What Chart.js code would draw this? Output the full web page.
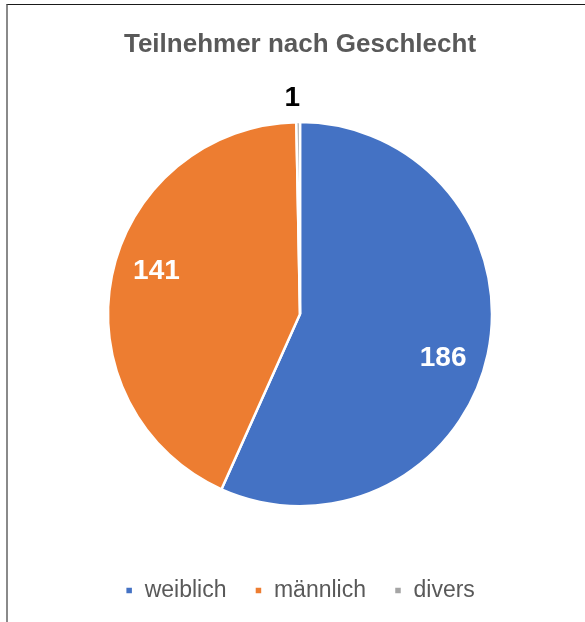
<!DOCTYPE html>
<html>
<head>
<meta charset="utf-8">
<script src="https://cdn.jsdelivr.net/npm/chart.js@4/dist/chart.umd.min.js"></script>
<style>
  html, body { margin: 0; padding: 0; background: #fff; width: 585px; height: 622px; overflow: hidden; }
  #frame { position: absolute; left: 6px; top: 4px; width: 600px; height: 640px;
           border-left: 2px solid #8a8a8a; border-top: 1px solid #1a1a1a; }
  #wrap { position: absolute; left: 8px; top: 5px; width: 584px; height: 617px; }
</style>
</head>
<body>
<div id="frame"></div>
<div id="wrap"><canvas id="c" width="584" height="617"></canvas></div>
<script>
const chartTitle = "Teilnehmer nach Geschlecht";
const categories = ["weiblich", "männlich", "divers"];
const values = [186, 141, 1];
const colors = ["#4472C4", "#ED7D31", "#A5A5A5"];

const FONT = "'Liberation Sans', Arial, sans-serif";

const labelPlugin = {
  id: 'sliceLabels',
  afterDatasetsDraw(chart) {
    const ctx = chart.ctx;
    const meta = chart.getDatasetMeta(0);
    const data = chart.data.datasets[0].data;
    const total = data.reduce((a, b) => a + b, 0);
    ctx.save();
    ctx.font = "bold 28px " + FONT;
    ctx.textAlign = 'center';
    ctx.textBaseline = 'middle';
    meta.data.forEach((arc, i) => {
      const p = arc.getProps(['x', 'y', 'startAngle', 'endAngle', 'outerRadius'], true);
      const frac = data[i] / total;
      let mid = (p.startAngle + p.endAngle) / 2;
      let r, color;
      if (frac < 0.03) {
        mid -= 1.5 * Math.PI / 180;
        r = p.outerRadius + 24;
        color = '#000000';
      } else {
        mid += 5 * Math.PI / 180;
        r = p.outerRadius * 0.78;
        color = '#FFFFFF';
      }
      ctx.fillStyle = color;
      ctx.fillText(String(data[i]), p.x + Math.cos(mid) * r, p.y + Math.sin(mid) * r);
    });
    ctx.restore();
  }
};

new Chart(document.getElementById('c'), {
  type: 'pie',
  data: {
    labels: categories,
    datasets: [{
      data: values,
      backgroundColor: colors,
      borderColor: '#FFFFFF',
      borderWidth: 2.5,
      radius: 192
    }]
  },
  options: {
    responsive: false,
    animation: false,
    layout: { padding: { top: 0, bottom: 10, left: 0, right: 0 } },
    plugins: {
      title: {
        display: true,
        text: chartTitle,
        color: '#595959',
        font: { family: FONT, size: 26, weight: 'bold' },
        padding: { top: 24, bottom: 17 }
      },
      legend: {
        position: 'bottom',
        labels: {
          color: '#595959',
          font: { family: FONT, size: 23 },
          boxWidth: 8,
          boxHeight: 8,
          padding: 28
        }
      },
      tooltip: { enabled: false }
    }
  },
  plugins: [labelPlugin]
});
</script>
</body>
</html>
